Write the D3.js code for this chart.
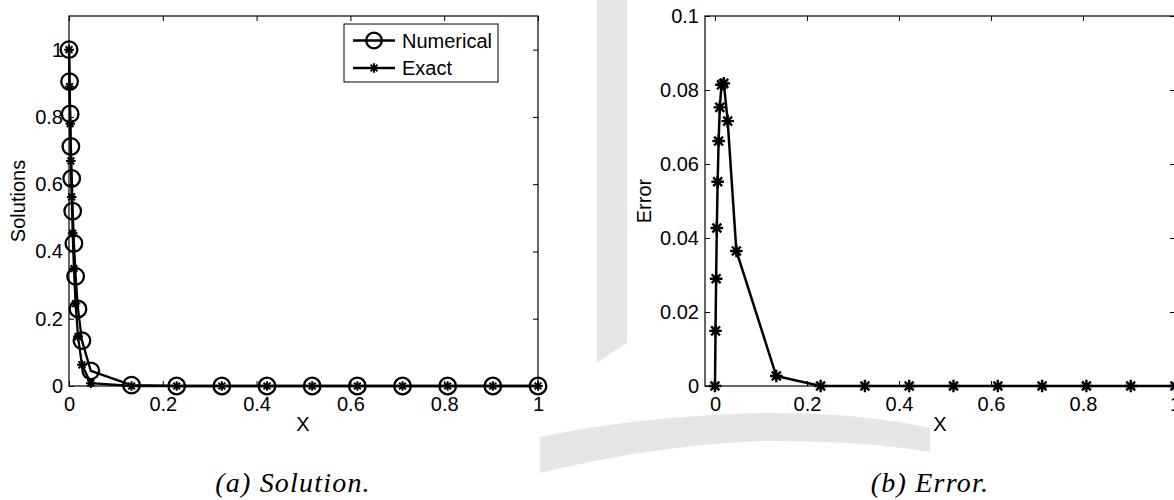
<!DOCTYPE html>
<html>
<head>
<meta charset="utf-8">
<script src="https://cdn.jsdelivr.net/npm/d3@7"></script>
<style>
  html, body { margin: 0; padding: 0; background: #fff; }
  svg { display: block; }
  text { font-family: Arial, Helvetica, "Liberation Sans", Arimo, "DejaVu Sans", sans-serif; fill: #000; }
  text.cap { font-family: "Times New Roman", Times, "Liberation Serif", Tinos, "DejaVu Serif", serif; font-style: italic; letter-spacing: 1.2px; }
</style>
</head>
<body>
<svg id="chart" width="1174" height="500"></svg>
<script>
// ---- data ----
const xMesh = [0, 0.0012, 0.0025, 0.0040, 0.0058, 0.0079, 0.0105, 0.0141, 0.0192, 0.0276, 0.0465,
               0.1333, 0.2296, 0.3259, 0.4222, 0.5185, 0.6148, 0.7111, 0.8074, 0.9037, 1.0];
const numerical = [1, 0.905, 0.809, 0.712, 0.617, 0.520, 0.424, 0.326, 0.229, 0.135, 0.045,
                   0.0027, 0, 0, 0, 0, 0, 0, 0, 0, 0];
const exact = [1, 0.890, 0.780, 0.669, 0.562, 0.454, 0.349, 0.245, 0.147, 0.063, 0.0085,
               0, 0, 0, 0, 0, 0, 0, 0, 0, 0];
const errorVals = [0, 0.0149, 0.0290, 0.0427, 0.0552, 0.0662, 0.0753, 0.0814, 0.0818, 0.0716, 0.0365,
                   0.0027, 0, 0, 0, 0, 0, 0, 0, 0, 0];
const xTicks = [0, 0.2, 0.4, 0.6, 0.8, 1];
const yTicksA = [0, 0.2, 0.4, 0.6, 0.8, 1];
const yTicksB = [0, 0.02, 0.04, 0.06, 0.08, 0.1];
const legendLabels = ["Numerical", "Exact"];
const axisLabelX = "X";
const axisLabelYA = "Solutions";
const axisLabelYB = "Error";
const captionA = "(a) Solution.";
const captionB = "(b) Error.";

const svg = d3.select("#chart");

// ---- faint background watermark ----
const wm = svg.append("g").attr("fill", "#e6e6e6").attr("stroke", "none");
wm.append("path").attr("d", "M597,0 L627,0 L627,343 Q612,352 597,363 Z");
wm.append("path").attr("d", "M540,437 Q640,416 760,413 Q860,412 930,428 L930,452 Q860,440 760,441 Q650,446 540,473 Z");

const FS = 20;

function star(r) {
  const k = r * 0.7071;
  return `M${-r},0L${r},0M0,${-r}L0,${r}M${-k},${-k}L${k},${k}M${-k},${k}L${k},${-k}`;
}

function panel(opts) {
  const { left, right, top, bottom, xDomain, yDomain, yTicks } = opts;
  const x = d3.scaleLinear().domain(xDomain).range([left, right]);
  const y = d3.scaleLinear().domain(yDomain).range([bottom, top]);
  const g = svg.append("g");
  g.append("rect").attr("x", left).attr("y", top).attr("width", right - left).attr("height", bottom - top)
    .attr("fill", "#fff");

  const fmt = d => String(d);
  const ax = [
    g.append("g").attr("transform", `translate(0,${bottom})`)
      .call(d3.axisBottom(x).tickValues(xTicks).tickSize(-5).tickPadding(11).tickFormat(fmt)),
    g.append("g").attr("transform", `translate(${left},0)`)
      .call(d3.axisLeft(y).tickValues(yTicks).tickSize(-5).tickPadding(6).tickFormat(fmt)),
    g.append("g").attr("transform", `translate(0,${top})`)
      .call(d3.axisTop(x).tickValues(xTicks).tickSize(-5).tickFormat("")),
    g.append("g").attr("transform", `translate(${right},0)`)
      .call(d3.axisRight(y).tickValues(yTicks).tickSize(-5).tickFormat(""))
  ];
  ax.forEach(a => {
    a.attr("font-family", null).attr("font-size", null);
    a.select(".domain").remove();
    a.selectAll("line").attr("stroke", "#000").attr("stroke-width", 1);
    a.selectAll("text").attr("font-size", FS).attr("fill", "#000");
  });
  g.append("rect").attr("x", left).attr("y", top).attr("width", right - left).attr("height", bottom - top)
    .attr("fill", "none").attr("stroke", "#000").attr("stroke-width", 1.2);
  return { x, y, g };
}

// ---- panel (a) ----
const A = panel({ left: 69, right: 538, top: 16, bottom: 386, xDomain: [0, 1], yDomain: [0, 1.1], yTicks: yTicksA });
const lineA = d3.line().x((d, i) => A.x(xMesh[i])).y(d => A.y(d));
A.g.append("path").datum(numerical).attr("d", lineA).attr("fill", "none").attr("stroke", "#000")
  .attr("stroke-width", 2.3).attr("stroke-linejoin", "round");
A.g.selectAll("circle.num").data(numerical).enter().append("circle")
  .attr("cx", (d, i) => A.x(xMesh[i])).attr("cy", d => A.y(d)).attr("r", 8.3)
  .attr("fill", "none").attr("stroke", "#000").attr("stroke-width", 2.3);
A.g.append("path").datum(exact).attr("d", lineA).attr("fill", "none").attr("stroke", "#000")
  .attr("stroke-width", 2.3).attr("stroke-linejoin", "round");
A.g.selectAll("path.ex").data(exact).enter().append("path")
  .attr("transform", (d, i) => `translate(${A.x(xMesh[i])},${A.y(d)})`)
  .attr("d", star(4.8)).attr("fill", "none").attr("stroke", "#000").attr("stroke-width", 2);

// legend
const lg = A.g.append("g");
lg.append("rect").attr("x", 344).attr("y", 24).attr("width", 154).attr("height", 58)
  .attr("fill", "#fff").attr("stroke", "#000").attr("stroke-width", 1);
const rowsY = [40.5, 68];
rowsY.forEach((ry, k) => {
  lg.append("line").attr("x1", 353).attr("x2", 395).attr("y1", ry).attr("y2", ry)
    .attr("stroke", "#000").attr("stroke-width", 2.3);
  if (k === 0) {
    lg.append("circle").attr("cx", 374).attr("cy", ry).attr("r", 7.8).attr("fill", "none")
      .attr("stroke", "#000").attr("stroke-width", 2.3);
  } else {
    lg.append("path").attr("transform", `translate(374,${ry})`).attr("d", star(4.8))
      .attr("fill", "none").attr("stroke", "#000").attr("stroke-width", 2);
  }
  lg.append("text").attr("x", 402).attr("y", ry + 7).attr("font-size", FS).text(legendLabels[k]);
});

svg.append("text").attr("x", 303).attr("y", 431).attr("text-anchor", "middle").attr("font-size", FS).text(axisLabelX);
svg.append("text").attr("transform", "translate(25,201) rotate(-90)").attr("text-anchor", "middle")
  .attr("font-size", FS).text(axisLabelYA);
svg.append("text").attr("class", "cap").attr("x", 293).attr("y", 492).attr("text-anchor", "middle")
  .attr("font-size", 28).text(captionA);

// ---- panel (b) ----
const B = panel({ left: 705, right: 1175, top: 16, bottom: 386, xDomain: [-0.0217, 1], yDomain: [0, 0.1], yTicks: yTicksB });
const lineB = d3.line().x((d, i) => B.x(xMesh[i])).y(d => B.y(d));
B.g.append("path").datum(errorVals).attr("d", lineB).attr("fill", "none").attr("stroke", "#000")
  .attr("stroke-width", 2.5).attr("stroke-linejoin", "round");
B.g.selectAll("path.er").data(errorVals).enter().append("path")
  .attr("transform", (d, i) => `translate(${B.x(xMesh[i])},${B.y(d)})`)
  .attr("d", star(6.3)).attr("fill", "none").attr("stroke", "#000").attr("stroke-width", 2.4);

svg.append("text").attr("x", 940).attr("y", 431).attr("text-anchor", "middle").attr("font-size", FS).text(axisLabelX);
svg.append("text").attr("transform", "translate(651,201) rotate(-90)").attr("text-anchor", "middle")
  .attr("font-size", FS).text(axisLabelYB);
svg.append("text").attr("class", "cap").attr("x", 930).attr("y", 492).attr("text-anchor", "middle")
  .attr("font-size", 28).text(captionB);
</script>
</body>
</html>
